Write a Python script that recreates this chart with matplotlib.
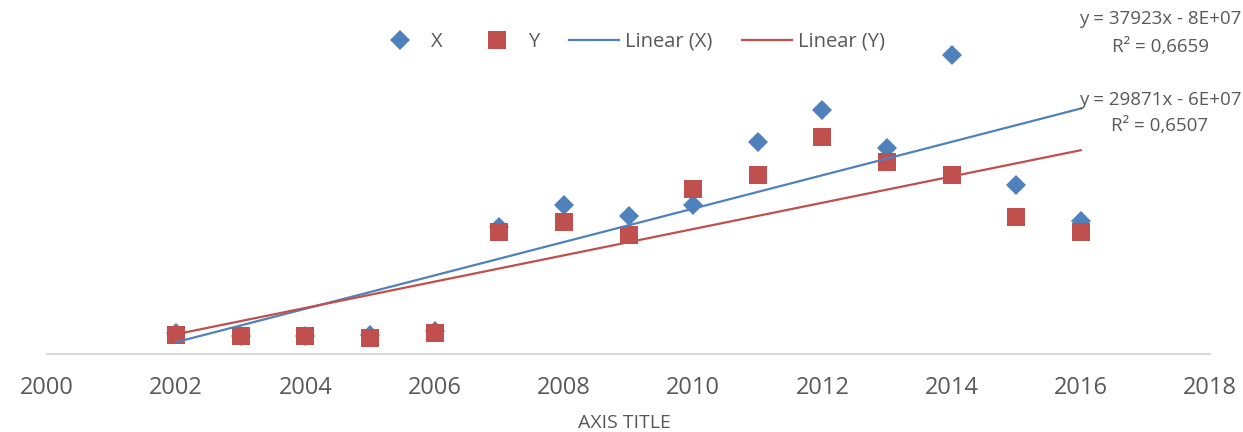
import numpy as np
import matplotlib
matplotlib.use('Agg')
import matplotlib.pyplot as plt
from matplotlib.lines import Line2D

plt.rcParams['font.family'] = ['Open Sans', 'DejaVu Sans']

years = [2002, 2003, 2004, 2005, 2006, 2007, 2008, 2009, 2010, 2011, 2012, 2013, 2014, 2015, 2016]
x_vals = [47700, 40900, 40900, 43100, 52200, 289000, 338000, 313000, 338000, 482000, 554000, 468000, 679000, 384000, 302000]
y_vals = [43100, 40900, 40900, 36300, 47700, 277000, 300000, 270000, 375000, 406000, 493000, 437000, 406000, 311000, 277000]

trend_x = (37923, 27000)
trend_y = (29871, 45000)
eq_x = "y = 37923x - 8E+07\nR² = 0,6659"
eq_y = "y = 29871x - 6E+07\nR² = 0,6507"

blue = '#4F81BD'
red = '#C0504D'
grey = '#595959'

W, H = 1243, 432
fig = plt.figure(figsize=(W / 100, H / 100), dpi=100)
ax = fig.add_axes([47 / W, (H - 354) / H, (1210 - 47) / W, 352 / H])

ax.plot(years, x_vals, 'D', color=blue, markersize=9.8, markeredgewidth=0, zorder=3)
ax.plot(years, y_vals, 's', color=red, markersize=12.6, markeredgewidth=0, zorder=4)

tx = np.array([years[0], years[-1]])
ax.plot(tx, trend_x[1] + trend_x[0] * (tx - years[0]), color=blue, lw=1.6, zorder=5)
ax.plot(tx, trend_y[1] + trend_y[0] * (tx - years[0]), color=red, lw=1.6, zorder=5)

ax.set_xlim(2000, 2018)
ax.set_ylim(0, 800000)
ax.set_xticks(range(2000, 2019, 2))
ax.set_yticks([])
for s in ['top', 'right', 'left']:
    ax.spines[s].set_visible(False)
ax.spines['bottom'].set_color('#d9d9d9')
ax.spines['bottom'].set_linewidth(1.5)
ax.tick_params(axis='x', length=0, pad=16, labelsize=17, labelcolor=grey)

fig.text(624 / W, 1 - 423 / H, 'AXIS TITLE', ha='center', va='center', fontsize=14, color=grey)

fig.text(1160 / W, 1 - 33 / H, eq_x, ha='center', va='center', multialignment='center',
         fontsize=13.5, color=grey, linespacing=1.65)
fig.text(1160 / W, 1 - 113 / H, eq_y, ha='center', va='center', multialignment='center',
         fontsize=13.5, color=grey, linespacing=1.55)

handles = [
    Line2D([], [], ls='none', marker='D', color=blue, markersize=9.8, markeredgewidth=0),
    Line2D([], [], ls='none', marker='s', color=red, markersize=12.6, markeredgewidth=0),
    Line2D([], [], color=blue, lw=1.6),
    Line2D([], [], color=red, lw=1.6),
]
labels = ['X', 'Y', 'Linear (X)', 'Linear (Y)']
leg = fig.legend(handles, labels, ncol=4, loc='center', bbox_to_anchor=(630 / W, 1 - 42 / H),
                 frameon=False, fontsize=14.5, handlelength=2.5, handletextpad=0.3,
                 columnspacing=1.45, labelcolor=grey)

fig.savefig('out.png', dpi=100)
